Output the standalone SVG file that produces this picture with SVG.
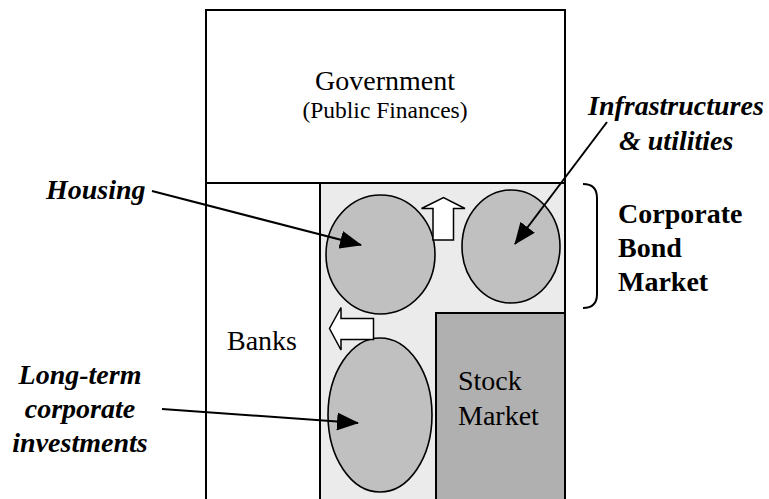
<svg xmlns="http://www.w3.org/2000/svg" width="769" height="499" viewBox="0 0 769 499">
<style>
.t{font-family:"Liberation Serif","Times New Roman",serif;fill:#000}
.r{font-size:28px}
.s{font-size:23.5px}
.bi{font-size:28px;font-weight:bold;font-style:italic}
.b{font-size:28px;font-weight:bold}
.box{stroke:#000;stroke-width:2}
.ell{fill:#c0c0c0;stroke:#000;stroke-width:1.6}
.conn{stroke:#000;stroke-width:2;fill:none}
.blk{fill:none;stroke:#000;stroke-width:1.5}
.harrow{fill:#fff;stroke:#000;stroke-width:1.5}
</style>
<defs>
<marker id="ah" markerUnits="userSpaceOnUse" viewBox="0 0 22 18" refX="21" refY="9" markerWidth="22" markerHeight="18" orient="auto">
<path d="M0,0 L22,9 L0,18 Z" fill="#000"/>
</marker>
</defs>
<rect width="769" height="499" fill="#fff"/>
<g id="government">
<rect class="box" x="206" y="10" width="359" height="173" fill="#fff"/>
<text class="t r" x="385" y="90" text-anchor="middle">Government</text>
<text class="t s" x="385" y="118" text-anchor="middle">(Public Finances)</text>
</g>
<g id="banks">
<rect class="box" x="206" y="183" width="114" height="320" fill="#fff"/>
<text class="t r" x="227" y="350">Banks</text>
</g>
<g id="bond-market-area">
<rect class="box" x="320" y="183" width="245" height="320" fill="#ebebeb"/>
</g>
<g id="stock-market">
<rect class="box" x="436" y="313" width="129" height="190" fill="#b0b0b0"/>
<text class="t r" x="458" y="390">Stock</text>
<text class="t r" x="458" y="425">Market</text>
</g>
<g id="housing-ellipse">
<ellipse class="ell" cx="380.5" cy="254.5" rx="54.5" ry="59.5"/>
</g>
<g id="infra-ellipse">
<ellipse class="ell" cx="511" cy="246.5" rx="49" ry="56.5"/>
</g>
<g id="longterm-ellipse">
<ellipse class="ell" cx="380" cy="415" rx="52" ry="77"/>
</g>
<g id="up-arrow">
<polygon class="harrow" points="433,240 453.5,240 453.5,208.5 465,208.5 443.5,197.5 421.5,208.5 433,208.5"/>
</g>
<g id="left-arrow">
<polygon class="harrow" points="373.5,318.5 373.5,339.5 341,339.5 341,350 329.5,328.5 341,307.5 341,318.5"/>
</g>
<g id="housing-label">
<text class="t bi" x="46" y="199">Housing</text>
</g>
<g id="infra-label">
<text class="t bi" x="588" y="115">Infrastructures</text>
<text class="t bi" x="619" y="150">&amp; utilities</text>
</g>
<g id="corporate-bond-label">
<path class="conn" d="M583,184 Q597,184 597,198 L597,294 Q597,308 583,308"/>
<text class="t b" x="618" y="223">Corporate</text>
<text class="t b" x="618" y="257">Bond</text>
<text class="t b" x="618" y="291">Market</text>
</g>
<g id="longterm-label">
<text class="t bi" x="80" y="384" text-anchor="middle">Long-term</text>
<text class="t bi" x="80" y="418" text-anchor="middle">corporate</text>
<text class="t bi" x="80" y="452" text-anchor="middle">investments</text>
</g>
<g id="connectors">
<line class="conn" x1="152" y1="191" x2="361" y2="245" marker-end="url(#ah)"/>
<line class="conn" x1="607" y1="122" x2="515" y2="244" marker-end="url(#ah)"/>
<line class="conn" x1="162" y1="409" x2="358" y2="423" marker-end="url(#ah)"/>
</g>
</svg>
